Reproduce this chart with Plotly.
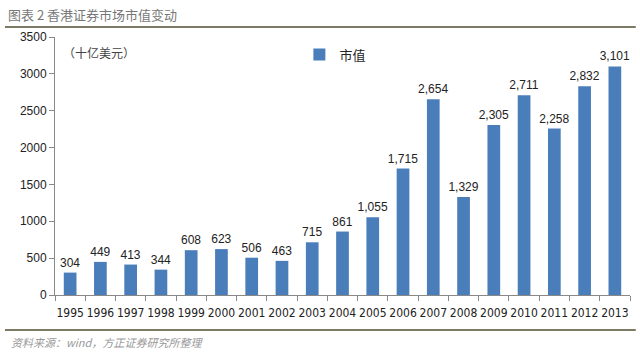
import plotly.graph_objects as go

years = ["1995","1996","1997","1998","1999","2000","2001","2002","2003","2004",
         "2005","2006","2007","2008","2009","2010","2011","2012","2013"]
market_cap = [304,449,413,344,608,623,506,463,715,861,1055,1715,2654,1329,2305,2711,2258,2832,3101]
labels = [f"{v:,}" for v in market_cap]
y_ticks = [0,500,1000,1500,2000,2500,3000,3500]

fig = go.Figure()
fig.add_trace(go.Bar(
    x=years, y=market_cap, name="市值",
    marker=dict(color="#4A7EBB", line=dict(width=0)),
    width=0.42,
    text=labels, textposition="outside", cliponaxis=False,
    textfont=dict(size=12, color="#222", family="Liberation Sans, Arial"),
))

fig.update_layout(
    width=640, height=352,
    margin=dict(l=55, r=10, t=37, b=57),
    paper_bgcolor="white", plot_bgcolor="white",
    font=dict(family="Liberation Sans, Arial", size=12, color="#222"),
    showlegend=True,
    uniformtext=dict(minsize=12, mode="show"),
    legend=dict(x=0.425, y=0.99, xanchor="left", yanchor="top",
                bgcolor="rgba(0,0,0,0)", font=dict(size=13, family="Noto Sans CJK SC"),
                itemwidth=30),
)
fig.update_xaxes(
    type="category", showline=True, linecolor="#888", linewidth=1,
    ticks="outside", tickcolor="#888", ticklen=5, tickson="boundaries",
    showgrid=False, tickangle=0, ticklabelstandoff=7,
    tickfont=dict(size=12, color="#222", family="DejaVu Sans Condensed, Liberation Sans Narrow, Liberation Sans"),
)
fig.update_yaxes(
    range=[0,3500], tickvals=y_ticks, showline=True, linecolor="#888", linewidth=1,
    ticks="outside", tickcolor="#888", ticklen=5, showgrid=False, zeroline=False,
    tickfont=dict(size=12, color="#222"),
)

fig.add_annotation(text="图表 2 香港证券市场市值变动", xref="paper", yref="paper",
                   x=-0.085, y=1.04, xanchor="left", yanchor="bottom", yshift=1,
                   showarrow=False, font=dict(size=13, color="#777", family="Noto Sans CJK SC"))
fig.add_shape(type="line", xref="paper", yref="paper", x0=-0.087, x1=1.01, y0=1.039, y1=1.039,
              line=dict(color="#7d7a66", width=2))
fig.add_annotation(text="（十亿美元）", xref="paper", yref="paper",
                   x=0.01, y=0.98, xanchor="left", yanchor="top",
                   showarrow=False, font=dict(size=12, color="#444", family="Noto Sans CJK SC"))
fig.add_shape(type="line", xref="paper", yref="paper", x0=-0.087, x1=1.01, y0=-0.136, y1=-0.136,
              line=dict(color="#7d7a66", width=2))
fig.add_annotation(text="<i>资料来源：wind，方正证券研究所整理</i>", xref="paper", yref="paper",
                   x=-0.08, y=-0.145, xanchor="left", yanchor="top",
                   showarrow=False, font=dict(size=11, color="#999", family="Noto Sans CJK SC"))

fig.write_html("out.html")
